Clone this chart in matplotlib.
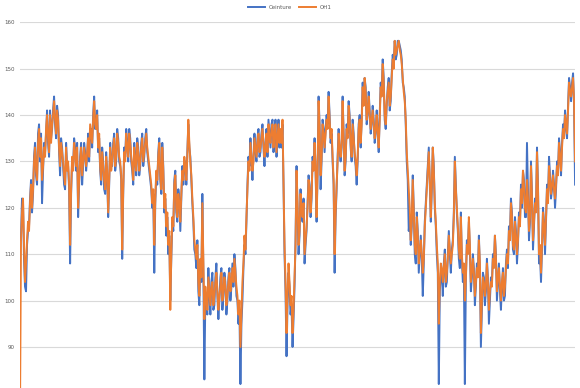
import matplotlib.pyplot as plt

# valeurs (environ une valeur par pixel)
oh1 = [76, 113, 119, 122, 112, 104, 108, 113, 117, 115, 121, 125, 120, 124, 130, 133, 128, 126, 134, 137,
       131, 135, 126, 129, 133, 131, 137, 140, 135, 132, 140, 134, 138, 140, 143, 139, 136, 141, 139, 133,
       129, 134, 132, 130, 127, 125, 133, 128, 130, 125, 112, 124, 131, 128, 134, 132, 129, 133, 120, 126,
       130, 133, 127, 130, 133, 131, 129, 132, 135, 131, 138, 136, 134, 139, 143, 138, 137, 140, 133, 136,
       129, 126, 132, 129, 126, 124, 131, 128, 119, 126, 133, 128, 130, 133, 135, 129, 131, 136, 134, 131,
       130, 127, 111, 124, 132, 130, 136, 133, 131, 136, 134, 131, 129, 126, 133, 130, 128, 134, 132, 128,
       130, 133, 135, 130, 132, 134, 136, 133, 131, 129, 127, 125, 121, 124, 112, 122, 128, 126, 131, 134,
       127, 124, 133, 128, 120, 123, 116, 119, 112, 115, 98, 110, 118, 116, 125, 127, 120, 118, 123, 121,
       117, 123, 128, 126, 131, 129, 126, 131, 139, 134, 130, 127, 122, 118, 113, 111, 109, 112, 104, 101,
       109, 105, 121, 108, 96, 103, 100, 98, 105, 102, 99, 103, 104, 99, 101, 104, 106, 102, 98, 101,
       103, 106, 100, 102, 105, 103, 99, 101, 104, 106, 102, 104, 107, 104, 109, 106, 103, 101, 97, 100,
       90, 97, 104, 108, 114, 111, 118, 124, 130, 128, 134, 131, 128, 130, 135, 133, 131, 134, 136, 132,
       133, 135, 137, 134, 131, 133, 136, 132, 138, 135, 134, 137, 138, 133, 136, 138, 132, 135, 138, 134,
       137, 134, 139, 126, 112, 104, 93, 101, 108, 104, 99, 101, 93, 98, 105, 112, 128, 121, 112, 115,
       123, 120, 118, 121, 110, 113, 116, 120, 126, 124, 119, 123, 130, 128, 134, 129, 118, 128, 143, 137,
       127, 131, 138, 136, 133, 136, 139, 137, 144, 139, 135, 137, 131, 126, 110, 119, 125, 130, 136, 133,
       131, 134, 143, 135, 128, 131, 137, 135, 142, 139, 134, 131, 138, 135, 132, 130, 127, 131, 137, 139,
       134, 138, 146, 142, 148, 145, 139, 141, 144, 140, 137, 139, 141, 138, 135, 137, 140, 136, 133, 139,
       146, 144, 151, 147, 140, 138, 143, 145, 147, 142, 144, 148, 152, 150, 156, 153, 154, 155, 156, 154,
       153, 151, 148, 145, 143, 139, 132, 128, 124, 120, 113, 117, 126, 119, 112, 110, 118, 114, 108, 111,
       113, 110, 106, 109, 116, 120, 124, 128, 132, 126, 118, 125, 133, 128, 121, 117, 112, 108, 95, 104,
       108, 107, 104, 107, 110, 104, 106, 109, 114, 111, 108, 110, 112, 118, 130, 124, 120, 116, 111, 109,
       118, 110, 106, 108, 100, 105, 112, 110, 118, 112, 104, 106, 109, 106, 101, 104, 107, 105, 113, 108,
       93, 100, 105, 104, 101, 103, 108, 104, 98, 102, 104, 103, 109, 107, 114, 109, 102, 105, 107, 103,
       100, 104, 106, 101, 103, 107, 110, 108, 115, 113, 121, 118, 112, 111, 117, 114, 110, 113, 118, 116,
       124, 121, 128, 125, 120, 119, 126, 122, 115, 118, 129, 122, 113, 117, 121, 119, 132, 124, 110, 112,
       106, 112, 119, 116, 112, 118, 124, 121, 129, 126, 123, 125, 127, 124, 122, 125, 129, 127, 134, 131,
       128, 133, 137, 135, 140, 138, 136, 141, 147, 145, 144, 146, 148, 143, 130]

ceinture = [113, 114, 122, 121, 109, 103, 102, 112, 115, 116, 122, 126, 119, 123, 131, 134, 127, 125, 136, 138,
            130, 136, 121, 128, 134, 132, 136, 141, 134, 131, 141, 135, 137, 141, 144, 138, 135, 142, 140, 132,
            127, 135, 133, 129, 125, 124, 134, 129, 129, 124, 108, 123, 130, 129, 135, 133, 128, 134, 118, 125,
            131, 134, 125, 129, 134, 132, 128, 131, 136, 130, 137, 137, 133, 140, 144, 137, 138, 141, 132, 135,
            128, 125, 133, 130, 124, 123, 132, 127, 118, 125, 134, 129, 129, 134, 136, 128, 130, 137, 135, 130,
            129, 126, 109, 123, 133, 131, 137, 134, 130, 137, 135, 130, 128, 125, 134, 131, 127, 135, 133, 127,
            129, 134, 136, 129, 131, 135, 137, 132, 130, 128, 126, 124, 120, 123, 106, 121, 127, 125, 132, 135,
            126, 123, 134, 129, 119, 122, 114, 118, 110, 114, 100, 109, 117, 115, 126, 128, 119, 117, 124, 122,
            115, 122, 129, 125, 130, 130, 125, 132, 138, 133, 131, 126, 121, 117, 111, 110, 107, 113, 102, 99,
            108, 104, 123, 106, 83, 101, 98, 97, 107, 101, 97, 104, 106, 98, 99, 105, 108, 101, 96, 100,
            105, 107, 98, 101, 106, 104, 97, 100, 105, 107, 100, 103, 108, 103, 110, 107, 101, 100, 95, 98,
            82, 95, 100, 107, 112, 110, 117, 125, 131, 129, 135, 130, 126, 131, 136, 132, 130, 135, 137, 131,
            132, 136, 138, 133, 129, 134, 137, 131, 139, 136, 133, 138, 139, 132, 135, 139, 131, 134, 139, 133,
            136, 133, 138, 125, 110, 102, 88, 99, 106, 103, 97, 99, 90, 96, 103, 113, 129, 120, 110, 114,
            124, 119, 117, 122, 108, 112, 115, 121, 127, 125, 118, 122, 131, 129, 135, 128, 117, 127, 144, 138,
            124, 130, 139, 137, 132, 137, 140, 138, 145, 140, 134, 136, 130, 125, 106, 118, 124, 131, 137, 132,
            130, 133, 144, 136, 127, 130, 138, 136, 143, 140, 133, 130, 139, 136, 131, 129, 125, 130, 138, 140,
            133, 139, 147, 143, 148, 146, 138, 140, 145, 141, 136, 138, 142, 139, 134, 136, 141, 137, 132, 140,
            147, 145, 152, 148, 139, 137, 142, 146, 148, 141, 143, 149, 153, 151, 156, 152, 153, 156, 156, 155,
            154, 152, 147, 146, 144, 138, 130, 126, 115, 118, 112, 116, 127, 120, 110, 108, 119, 115, 106, 110,
            114, 109, 101, 108, 117, 121, 125, 129, 133, 125, 117, 124, 133, 129, 120, 116, 110, 106, 82, 102,
            106, 106, 101, 108, 111, 103, 104, 110, 115, 110, 106, 111, 113, 119, 131, 125, 119, 115, 109, 107,
            119, 109, 104, 106, 82, 104, 113, 111, 117, 111, 102, 105, 110, 107, 99, 103, 108, 106, 114, 107,
            90, 98, 106, 105, 99, 102, 109, 105, 95, 100, 105, 104, 110, 108, 114, 110, 100, 104, 108, 102,
            98, 103, 107, 100, 101, 108, 111, 107, 116, 114, 122, 119, 111, 110, 118, 115, 108, 112, 119, 117,
            125, 120, 128, 126, 118, 118, 134, 123, 113, 117, 130, 123, 111, 116, 122, 120, 133, 125, 108, 110,
            104, 111, 120, 117, 110, 117, 125, 122, 131, 127, 122, 124, 128, 125, 120, 124, 130, 128, 135, 132,
            127, 134, 138, 136, 141, 137, 135, 142, 148, 146, 143, 147, 149, 142, 125]

yticks = [90, 100, 110, 120, 130, 140, 150, 160]

fig = plt.figure(figsize=(5.8, 3.88), dpi=100)
ax = fig.add_axes([0.0345, -0.0137, 0.957, 0.9562])

x = range(len(oh1))
ax.plot(x, ceinture, color='#4472C4', linewidth=1.4, label='Ceinture')
ax.plot(x, oh1, color='#ED7D31', linewidth=1.4, label='OH1')

ax.set_xlim(0, len(oh1) - 1)
ax.set_ylim(80, 160)
ax.set_yticks(yticks)
ax.set_xticks([])
ax.tick_params(axis='y', length=0, labelsize=4, labelcolor='#595959', pad=4)
ax.grid(axis='y', color='#D9D9D9', linewidth=0.8)
ax.set_axisbelow(True)
for s in ax.spines.values():
    s.set_visible(False)

# légende en haut, au centre
fig.legend(loc='upper center', bbox_to_anchor=(0.5, 1.0), ncol=2, frameon=False,
           fontsize=4, handlelength=3, columnspacing=1.2, labelcolor='#595959')

fig.savefig('out.png', dpi=100)
